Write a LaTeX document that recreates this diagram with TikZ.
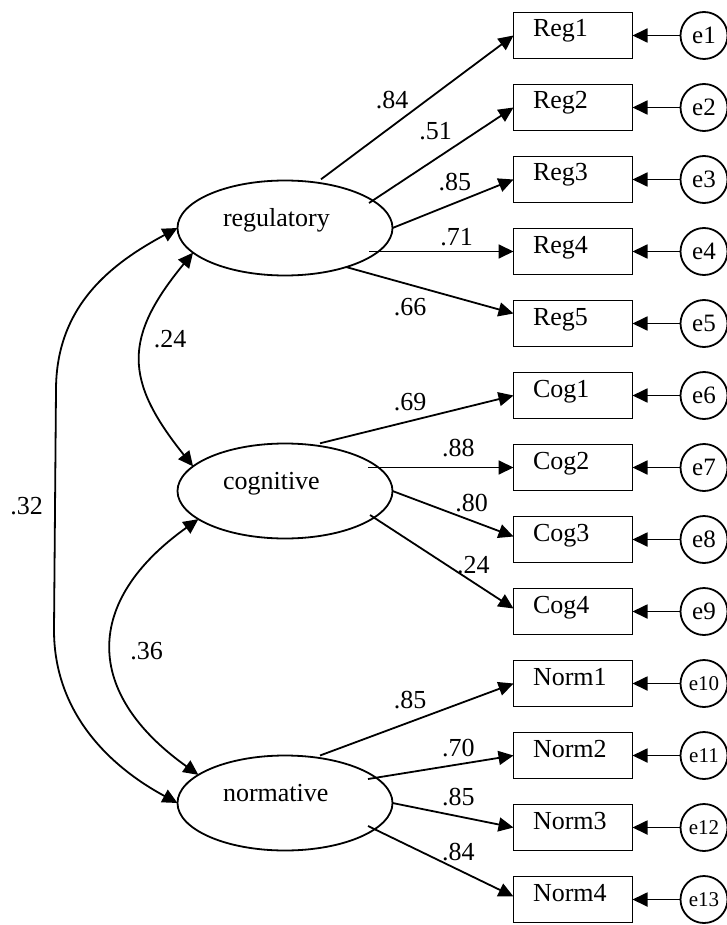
\documentclass[tikz,border=0pt]{standalone}
\usepackage{fontspec}
\setmainfont{Liberation Serif}
\usetikzlibrary{arrows.meta,calc,shapes.geometric}
\begin{document}
\begin{tikzpicture}[x=1pt,y=-1pt,
  every node/.style={inner sep=0pt, outer sep=0pt},
  lat/.style={draw, ellipse, line width=1.8pt, minimum width=215pt, minimum height=95pt},
  obs/.style={draw, rectangle, line width=1.8pt, minimum width=119pt, minimum height=46pt},
  err/.style={draw, circle, line width=1.8pt, minimum size=47pt, font=\fontsize{25}{28}\selectfont},
  errs/.style={err, font=\fontsize{21}{24}\selectfont},
  txt/.style={anchor=base west, font=\fontsize{26}{30}\selectfont},
  lbl/.style={font=\fontsize{26}{30}\selectfont},
  load/.style={line width=1.8pt, -{Triangle[length=15pt,width=14pt]}},
  cov/.style={line width=1.8pt, {Triangle[length=15pt,width=14pt]}-{Triangle[length=15pt,width=14pt]}},
]
\useasboundingbox (0,0) rectangle (727,925);

% latent variables
\node[lat] (reg) at (285,228) {};
\node[lat] (cog) at (285,491) {};
\node[lat] (nor) at (285,803) {};
\node[txt] (tReg) at (223,226) {regulatory};
\node[txt] (tCog) at (223,489) {cognitive};
\node[txt] (tNor) at (223,801) {normative};

% observed variables
\node[obs] (r1) at (573,35.5) {};
\node[obs] (r2) at (573,107.5) {};
\node[obs] (r3) at (573,179.5) {};
\node[obs] (r4) at (573,251.5) {};
\node[obs] (r5) at (573,323.5) {};
\node[obs] (r6) at (573,395.5) {};
\node[obs] (r7) at (573,467.5) {};
\node[obs] (r8) at (573,539.5) {};
\node[obs] (r9) at (573,611.5) {};
\node[obs] (r10) at (573,683.5) {};
\node[obs] (r11) at (573,755.5) {};
\node[obs] (r12) at (573,827.5) {};
\node[obs] (r13) at (573,899.5) {};

\node[txt] (t1) at (533,37) {Reg1};
\node[txt] (t2) at (533,109) {Reg2};
\node[txt] (t3) at (533,181) {Reg3};
\node[txt] (t4) at (533,253) {Reg4};
\node[txt] (t5) at (533,325) {Reg5};
\node[txt] (t6) at (533,397) {Cog1};
\node[txt] (t7) at (533,469) {Cog2};
\node[txt] (t8) at (533,541) {Cog3};
\node[txt] (t9) at (533,613) {Cog4};
\node[txt] (t10) at (533,685) {Norm1};
\node[txt] (t11) at (533,757) {Norm2};
\node[txt] (t12) at (533,829) {Norm3};
\node[txt] (t13) at (533,901) {Norm4};

% errors
\node[err] (e1) at (704,35.5) {e1};
\node[err] (e2) at (704,107.5) {e2};
\node[err] (e3) at (704,179.5) {e3};
\node[err] (e4) at (704,251.5) {e4};
\node[err] (e5) at (704,323.5) {e5};
\node[err] (e6) at (704,395.5) {e6};
\node[err] (e7) at (704,467.5) {e7};
\node[err] (e8) at (704,539.5) {e8};
\node[err] (e9) at (704,611.5) {e9};
\node[errs] (e10) at (704,683.5) {e10};
\node[errs] (e11) at (704,755.5) {e11};
\node[errs] (e12) at (704,827.5) {e12};
\node[errs] (e13) at (704,899.5) {e13};

\foreach \k in {1,...,13} { \draw[load] (e\k.west) -- (r\k.east); }

% loadings
\draw[load] ($(reg.center)+(36,-48.7)$) -- (r1.west);
\draw[load] ($(reg.center)+(84,-25)$) -- (r2.west);
\draw[load] (reg.east) -- (r3.west);
\draw[load] ($(reg.center)+(84,23.5)$) -- (r4.west);
\draw[load] ($(reg.center)+(61,39)$) -- ($(r5.west)+(0,-10)$);

\draw[load] ($(cog.center)+(35,-47.7)$) -- (r6.west);
\draw[load] ($(cog.center)+(83,-23.5)$) -- (r7.west);
\draw[load] (cog.east) -- ($(r8.west)+(0,-3)$);
\draw[load] ($(cog.center)+(85,24)$) -- ($(r9.west)+(0,-3)$);

\draw[load] ($(nor.center)+(35,-47.5)$) -- (r10.west);
\draw[load] ($(nor.center)+(83,-24)$) -- (r11.west);
\draw[load] (nor.east) -- (r12.west);
\draw[load] ($(nor.center)+(83,23)$) -- ($(r13.west)+(0,-3)$);

% loading labels
\node[lbl] (l1) at (392,100) {.84};
\node[lbl] (l2) at (435.6,131.3) {.51};
\node[lbl] (l3) at (454.8,182.3) {.85};
\node[lbl] (l4) at (456.6,236.7) {.71};
\node[lbl] (l5) at (410,306.7) {.66};
\node[lbl] (l6) at (410,401.7) {.69};
\node[lbl] (l7) at (458.3,448.3) {.88};
\node[lbl] (l8) at (471.7,503.3) {.80};
\node[lbl] (l9) at (473.3,565) {.24};
\node[lbl] (l10) at (410,700) {.85};
\node[lbl] (l11) at (458.3,748.3) {.70};
\node[lbl] (l12) at (458.3,796.7) {.85};
\node[lbl] (l13) at (458.3,851.7) {.84};

% covariances
\coordinate (k1) at (56,390);
\coordinate (k2) at (54,630);
\draw[cov] (reg.west) .. controls +(-65,35) and +(0,-85) .. (k1) -- (k2) .. controls +(0,85) and +(-65,-35) .. (nor.west);
\draw[cov] (reg.195) .. controls +(-70,85) and +(-69,-86) .. (cog.165);
\draw[cov] (cog.198) .. controls +(-115,82) and +(-115,-82) .. (nor.162);

\node[lbl] (c1) at (170,339.2) {.24};
\node[lbl] (c2) at (146.7,651.4) {.36};
\node[lbl] (c3) at (26.7,506.5) {.32};
\end{tikzpicture}
\end{document}
